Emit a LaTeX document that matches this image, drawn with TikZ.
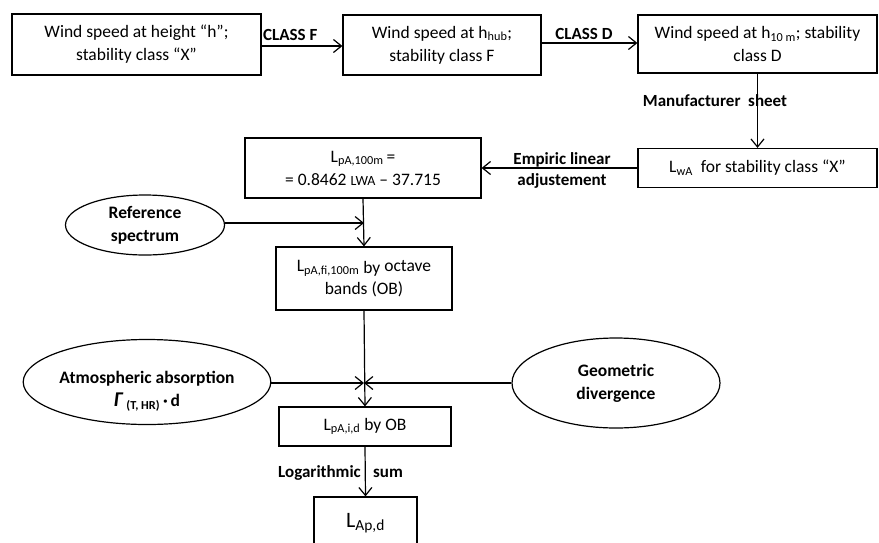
\documentclass[tikz,border=0pt]{standalone}
\usepackage{fontspec}
\setmainfont{Carlito}
\usetikzlibrary{arrows.meta,shapes.geometric}
\begin{document}
\begin{tikzpicture}[x=1pt,y=-1pt,
  every node/.style={font=\fontsize{17.5}{23}\selectfont, align=center, inner sep=0pt},
  box/.style={draw, line width=1.2pt, rectangle},
  oval/.style={draw, line width=1.2pt, ellipse, font=\fontsize{17.5}{23}\selectfont\bfseries},
  lbl/.style={font=\fontsize{17}{21}\selectfont\bfseries},
  conn/.style={line width=1.2pt, -{Straight Barb[length=8pt,width=13pt,line width=1.2pt]}},
  plain/.style={line width=1.2pt}]
\useasboundingbox (0,0) rectangle (879,542);
\node[box, minimum width=249, minimum height=61] (b1) at (136.5,44.5) {Wind speed at height “h”;\\stability class “X”};
\node[box, minimum width=198, minimum height=60] (b2) at (442,45) {Wind speed at h\textsubscript{hub};\\stability class F};
\node[box, minimum width=239, minimum height=58] (b3) at (757.5,44) {Wind speed at h\textsubscript{10 m}; stability\\class D};
\node[box, minimum width=239, minimum height=39] (b4) at (757.5,168) {L\textsubscript{wA}\ \ for stability class “X”};
\node[box, minimum width=236, minimum height=60] (b5) at (363,168) {L\textsubscript{pA,100m}\,=\\= 0.8462 {\fontsize{14}{14}\selectfont LWA} – 37.715};
\node[box, minimum width=176, minimum height=63] (b6) at (364,278.5) {L\textsubscript{pA,fi,100m} \raisebox{-2pt}{by} octave\\bands (OB)};
\node[box, minimum width=172, minimum height=39] (b7) at (365,426.5) {L\textsubscript{pA,i,d} by OB};
\node[box, minimum width=103, minimum height=52, font=\fontsize{22}{26}\selectfont] (b8) at (365.5,523) {L\textsubscript{Ap,d}};
\node[oval, minimum width=159, minimum height=60] (e1) at (145,225) {Reference\\spectrum};
\node[oval, minimum width=211, minimum height=85] (e2) at (147,382) {\rule{0pt}{30pt}Atmospheric absorption\\{\fontsize{21}{21}\selectfont\textit{Γ}}\,\textsubscript{(T, HR)}\,·\,d};
\node[oval, minimum width=208, minimum height=90] (e3) at (616,383) {Geometric\\divergence};
\coordinate (j1) at (364,223);
\coordinate (j2) at (364,383);
\draw[conn] (b1.east |- 0,46) -- (b2.west |- 0,46);
\node[lbl, anchor=west] (l1) at (263,35) {CLASS F};
\draw[conn] (b2.east |- 0,43) -- (b3.west |- 0,43);
\node[lbl, anchor=center] (l2) at (584,34) {CLASS D};
\draw[conn] (b3.south) -- (b4.north);
\node[lbl] (l3) at (715,101) {Manufacturer\ \ sheet};
\draw[conn] (b4.west) -- (b5.east);
\node[lbl] (l4) at (562,170) {Empiric linear\\adjustement};
\draw[conn] (b5.south) -- (b6.north);
\draw[conn] (e1.east |- j1) -- (j1);
\draw[conn] (b6.south) -- (b7.north);
\draw[conn] (e2.east |- j2) -- (j2);
\draw[conn] (e3.west |- j2) -- (j2);
\draw[conn] (b7.south) -- (b8.north);
\node[lbl, anchor=east] (l5) at (361,473) {Logarithmic};
\node[lbl, anchor=west] (l6) at (373,473) {sum};
\end{tikzpicture}
\end{document}
